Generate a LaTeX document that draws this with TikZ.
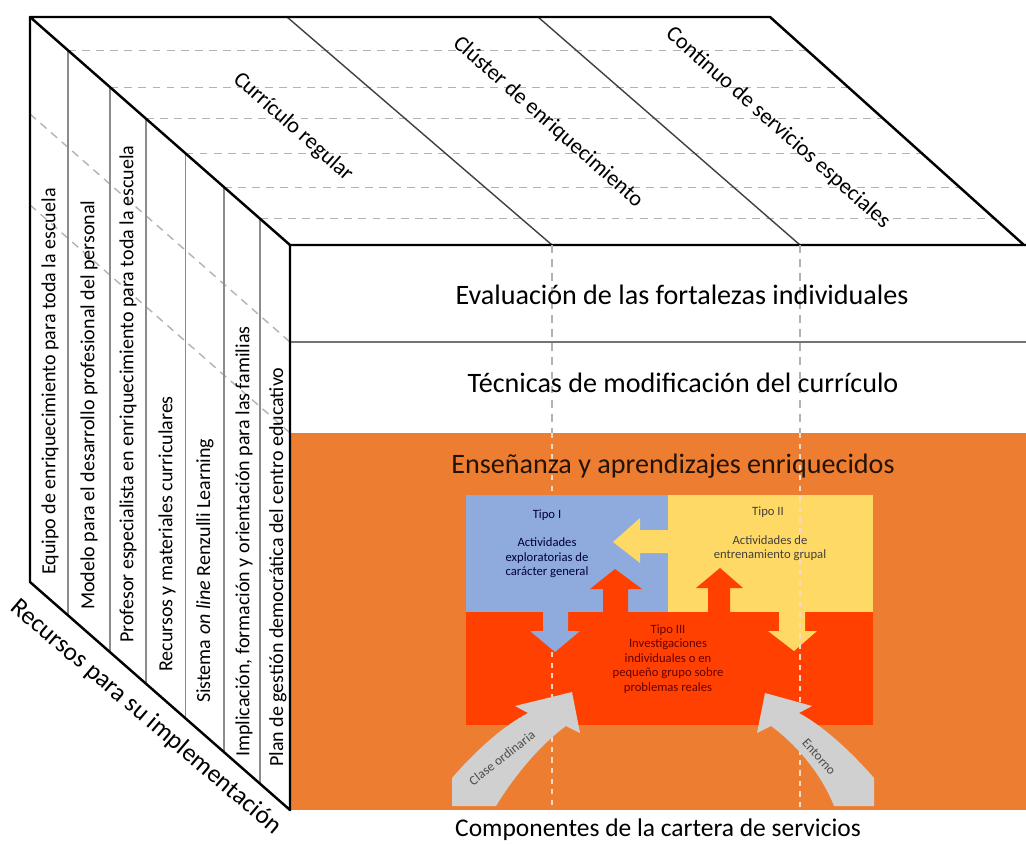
\documentclass[tikz,border=0pt]{standalone}
\usepackage{fontspec}
\setmainfont{Carlito}
\usepackage{xcolor}
\usetikzlibrary{calc}

\definecolor{naranja}{HTML}{ED7D31}
\definecolor{rojo}{HTML}{FF4000}
\definecolor{azul}{HTML}{8FAADC}
\definecolor{amarillo}{HTML}{FFD966}
\definecolor{grisflecha}{HTML}{D0D0D0}

\begin{document}
\begin{tikzpicture}[x=0.02cm, y=-0.02cm,
    borde/.style={line width=1.4pt, black, line join=round},
    division/.style={line width=0.8pt, black!75},
    columna/.style={line width=1.1pt, black!45},
    guia/.style={line width=0.8pt, black!30, dash pattern=on 4.5pt off 3.5pt},
    guiaclara/.style={line width=0.8pt, white!70!naranja, dash pattern=on 3pt off 3pt},
    lateral/.style={rotate=90, anchor=west, inner sep=1pt, font=\fontsize{11.4}{13}\selectfont},
    superior/.style={rotate=-41.5, font=\fontsize{12.7}{15}\selectfont},
    frontal/.style={font=\fontsize{16}{19}\selectfont},
    chico/.style={align=center, inner sep=1pt, font=\fontsize{7.2}{8.3}\selectfont}]

\useasboundingbox (0,0) rectangle (1026,844);

% Esquinas del cubo
\coordinate (A) at (30,17);
\coordinate (B) at (770,17);
\coordinate (F) at (290,245);
\coordinate (G) at (1024,245);
\coordinate (E) at (30,582);
\coordinate (H) at (290,810);
\coordinate (I) at (1026,810);

% Cara frontal
\fill[white] (F) rectangle (1026,433);
\fill[naranja] (290,433) rectangle (I);
\draw[black!55, line width=0.8pt] (290,342) -- (1026,342);

% Cara superior
\foreach \t in {0.147,0.309,0.446,0.598,0.747,0.885}
  \draw[guia] ($(A)!\t!(F)$) -- ($(B)!\t!(G)$);
\draw[division] (287,17) -- (552,245);
\draw[division] (538,17) -- (800,245);

% Cara lateral
\foreach \s in {0.1717,0.3327}
  \draw[guia] ($(A)!\s!(E)$) -- ($(F)!\s!(H)$);
\foreach \t in {0.147,0.309,0.446,0.598,0.747,0.885}
  \draw[columna] ($(A)!\t!(F)$) -- ($(E)!\t!(H)$);

% Bordes
\draw[borde] (F) -- (A) -- (B) -- (G);
\draw[borde] (A) -- (E) -- (H) -- (F) -- (1026,245);

% Tipos I, II y III
\fill[azul] (466,495) rectangle (668,612);
\fill[amarillo] (668,495) rectangle (873,612);
\fill[rojo] (466,612) rectangle (873,725);
\fill[azul] (543,610) -- (568,610) -- (568,631) -- (580,631) -- (555,652)
  -- (530,631) -- (543,631) -- cycle;
\fill[amarillo] (779,610) -- (805,610) -- (805,631) -- (817,631) -- (794,651)
  -- (768,631) -- (779,631) -- cycle;
\fill[amarillo] (670,530) -- (640,530) -- (640,518) -- (613,542) -- (640,563)
  -- (640,553) -- (670,553) -- cycle;
\fill[rojo] (603,613) -- (603,589) -- (590,589) -- (615,569) -- (642,589)
  -- (628,589) -- (628,613) -- cycle;
\fill[rojo] (708,613) -- (708,588) -- (696,588) -- (720,568) -- (743,588)
  -- (730,588) -- (730,613) -- cycle;

% Guias de la cara frontal
\draw[guia] (552,245) -- (552,433);
\draw[guia] (800,245) -- (800,433);
\draw[guiaclara] (552,433) -- (552,495);
\draw[guiaclara] (552,652) -- (552,808);
\draw[guiaclara] (800,433) -- (800,808);

% Flechas curvas
\fill[grisflecha] (452,778) .. controls (478,748) and (505,725) .. (528,713)
  -- (515,706) -- (572,692) -- (580,733) -- (566,726)
  .. controls (540,745) and (515,775) .. (496,806) -- (452,806) -- cycle;
\fill[grisflecha] (874,778) .. controls (848,748) and (821,725) .. (799,713)
  -- (812,706) -- (765,693) -- (757,733) -- (771,726)
  .. controls (797,745) and (822,775) .. (834,806) -- (874,806) -- cycle;

% Textos
\node[superior] (curriculo) at (293,127) {Currículo regular};
\node[superior] (cluster) at (548,122) {Clúster de enriquecimiento};
\node[superior] (continuo) at (778,128) {Continuo de servicios especiales};

\node[lateral] (equipo) at (50,577) {Equipo de enriquecimiento para toda la escuela};
\node[lateral] (modelo) at (89,612) {Modelo para el desarrollo profesional del personal};
\node[lateral] (profesor) at (128,645) {Profesor especialista en enriquecimiento para toda la escuela};
\node[lateral] (recursos) at (167,674) {Recursos y materiales curriculares};
\node[lateral] (sistema) at (205,705) {Sistema \textit{on line} Renzulli Learning};
\node[lateral] (implicacion) at (244,759) {Implicación, formación y orientación para las familias};
\node[lateral] (plan) at (278,769) {Plan de gestión democrática del centro educativo};
\node[rotate=-40.5, inner sep=1pt, font=\fontsize{14.5}{16}\selectfont] (recursosimpl) at (146,717)
  {Recursos para su implementación};

\node[frontal] (evaluacion) at (682,295) {Evaluación de las fortalezas individuales};
\node[frontal] (tecnicas) at (683,383) {Técnicas de modificación del currículo};
\node[frontal, text=black!85!naranja] (ensenanza) at (673,466) {Enseñanza y aprendizajes enriquecidos};
\node[font=\fontsize{14.5}{17}\selectfont] (componentes) at (658,830) {Componentes de la cartera de servicios};

\node[chico, text=blue!25!black] (tipoI) at (547,515) {Tipo I};
\node[chico, text=blue!25!black] (actI) at (547,558)
  {Actividades\\exploratorias de\\carácter general};
\node[chico, text=black!85!yellow] (tipoII) at (768,512) {Tipo II};
\node[chico, text=black!85!yellow] (actII) at (770,548)
  {Actividades de\\entrenamiento grupal};
\node[chico, text=red!40!black] (tipoIII) at (668,659)
  {Tipo III\\Investigaciones\\individuales o en\\pequeño grupo sobre\\problemas reales};
\node[chico, rotate=38, font=\fontsize{7.5}{9}\selectfont, text=black!70] (clase) at (502,758)
  {Clase ordinaria};
\node[chico, rotate=-48, font=\fontsize{7.5}{9}\selectfont, text=black!70] (entorno) at (819,757)
  {Entorno};
\end{tikzpicture}
\end{document}
